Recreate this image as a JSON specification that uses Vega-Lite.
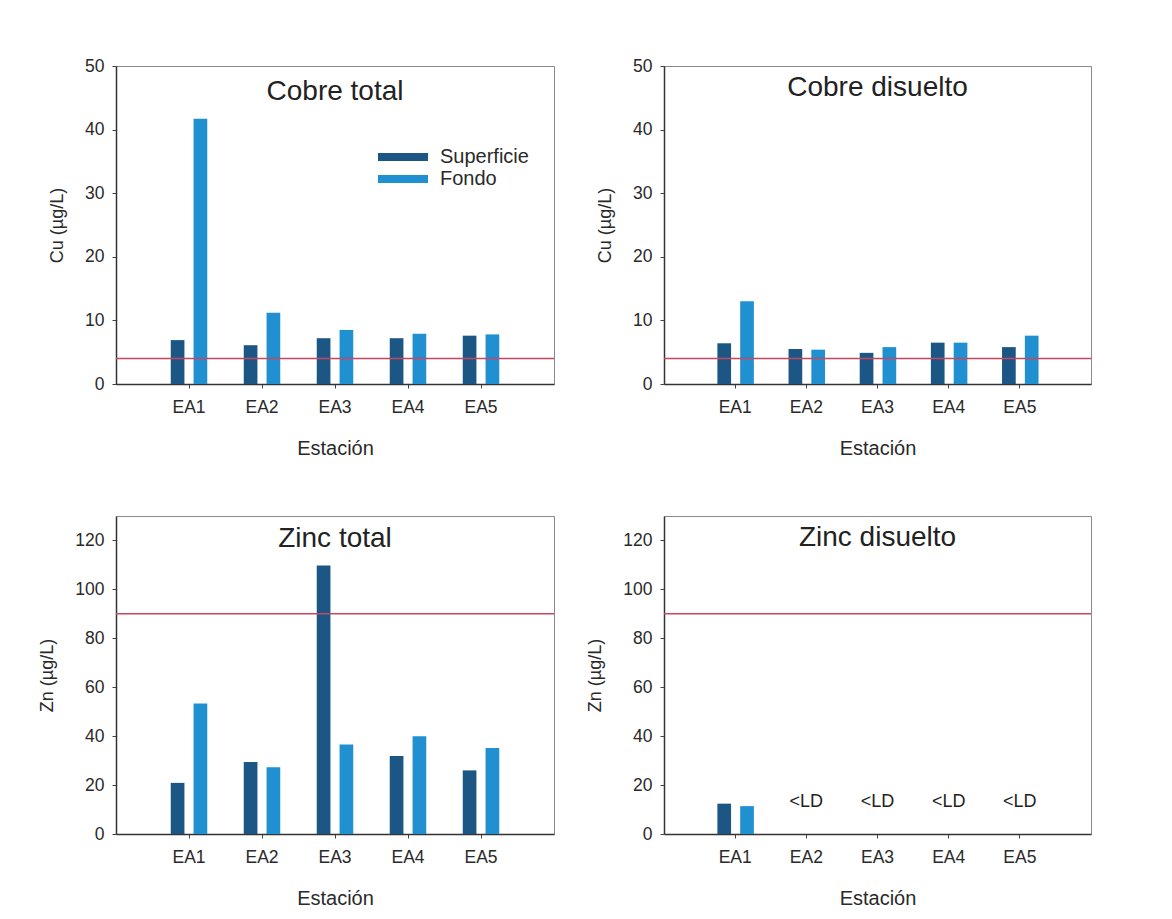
{
  "$schema": "https://vega.github.io/schema/vega-lite/v6.json",
  "background": "white",
  "padding": {"left": 38, "top": 56, "right": 5, "bottom": 5},
  "autosize": {"type": "pad"},
  "bounds": "flush",
  "columns": 2,
  "spacing": {"row": 132, "column": 110},
  "resolve": {"scale": {"color": "independent"}},
  "datasets": {
    "cu_total": [
      {"estacion": "EA1", "muestra": "Superficie", "valor": 6.9},
      {"estacion": "EA1", "muestra": "Fondo", "valor": 41.7},
      {"estacion": "EA2", "muestra": "Superficie", "valor": 6.1},
      {"estacion": "EA2", "muestra": "Fondo", "valor": 11.2},
      {"estacion": "EA3", "muestra": "Superficie", "valor": 7.2},
      {"estacion": "EA3", "muestra": "Fondo", "valor": 8.5},
      {"estacion": "EA4", "muestra": "Superficie", "valor": 7.2},
      {"estacion": "EA4", "muestra": "Fondo", "valor": 7.9},
      {"estacion": "EA5", "muestra": "Superficie", "valor": 7.6},
      {"estacion": "EA5", "muestra": "Fondo", "valor": 7.8}
    ],
    "cu_dis": [
      {"estacion": "EA1", "muestra": "Superficie", "valor": 6.4},
      {"estacion": "EA1", "muestra": "Fondo", "valor": 13.0},
      {"estacion": "EA2", "muestra": "Superficie", "valor": 5.5},
      {"estacion": "EA2", "muestra": "Fondo", "valor": 5.4},
      {"estacion": "EA3", "muestra": "Superficie", "valor": 4.9},
      {"estacion": "EA3", "muestra": "Fondo", "valor": 5.8},
      {"estacion": "EA4", "muestra": "Superficie", "valor": 6.5},
      {"estacion": "EA4", "muestra": "Fondo", "valor": 6.5},
      {"estacion": "EA5", "muestra": "Superficie", "valor": 5.8},
      {"estacion": "EA5", "muestra": "Fondo", "valor": 7.6}
    ],
    "zn_total": [
      {"estacion": "EA1", "muestra": "Superficie", "valor": 20.9},
      {"estacion": "EA1", "muestra": "Fondo", "valor": 53.3},
      {"estacion": "EA2", "muestra": "Superficie", "valor": 29.4},
      {"estacion": "EA2", "muestra": "Fondo", "valor": 27.3},
      {"estacion": "EA3", "muestra": "Superficie", "valor": 109.8},
      {"estacion": "EA3", "muestra": "Fondo", "valor": 36.6},
      {"estacion": "EA4", "muestra": "Superficie", "valor": 31.9},
      {"estacion": "EA4", "muestra": "Fondo", "valor": 40.0},
      {"estacion": "EA5", "muestra": "Superficie", "valor": 26.0},
      {"estacion": "EA5", "muestra": "Fondo", "valor": 35.2}
    ],
    "zn_dis": [
      {"estacion": "EA1", "muestra": "Superficie", "valor": 12.4},
      {"estacion": "EA1", "muestra": "Fondo", "valor": 11.4}
    ],
    "zn_ld": [
      {"estacion": "EA2", "etiqueta": "<LD"},
      {"estacion": "EA3", "etiqueta": "<LD"},
      {"estacion": "EA4", "etiqueta": "<LD"},
      {"estacion": "EA5", "etiqueta": "<LD"}
    ],
    "limite_cu": [{"limite": 4}],
    "limite_zn": [{"limite": 90}]
  },
  "config": {
    "font": "Liberation Sans",
    "view": {"stroke": "#8a8a8a", "strokeWidth": 1},
    "axis": {
      "domainColor": "#333333", "domainWidth": 1.5, "tickColor": "#444444", "tickSize": 4,
      "labelFont": "Liberation Sans", "labelFontSize": 17.5, "labelColor": "#2a2a2a",
      "titleFont": "Liberation Sans", "titleFontSize": 18, "titleFontWeight": "normal", "titleColor": "#2a2a2a",
      "grid": false
    },
    "axisX": {"labelAngle": 0, "labelPadding": 10, "titleFontSize": 20, "titlePadding": 23},
    "axisY": {"labelPadding": 8, "titlePadding": 18},
    "title": {"font": "Liberation Sans", "fontSize": 28, "fontWeight": "normal", "color": "#222222", "frame": "group", "anchor": "middle", "offset": -49},
    "legend": {
      "symbolType": "M-0.5,-0.4L4.5,-0.4L4.5,0.4L-0.5,0.4Z", "symbolSize": 400, "symbolStrokeWidth": 0,
      "labelFont": "Liberation Sans", "labelFontSize": 20, "labelColor": "#2a2a2a", "labelOffset": 47,
      "rowPadding": 2, "padding": 0
    }
  },
  "concat": [
    {
      "width": 438, "height": 318,
      "title": {"text": "Cobre total", "offset": -49},
      "layer": [
        {
          "data": {"name": "cu_total"},
          "mark": {"type": "bar"},
          "encoding": {
            "x": {"field": "estacion", "type": "nominal", "title": "Estación", "scale": {"domain": ["EA1", "EA2", "EA3", "EA4", "EA5"], "paddingInner": 0.5, "paddingOuter": 0.75}},
            "xOffset": {"field": "muestra", "type": "nominal", "scale": {"domain": ["Superficie", "Fondo"], "paddingInner": 0.4}},
            "y": {"field": "valor", "type": "quantitative", "title": "Cu (µg/L)", "scale": {"domain": [0, 50], "nice": false}, "axis": {"values": [0, 10, 20, 30, 40, 50]}},
            "color": {"field": "muestra", "type": "nominal", "scale": {"domain": ["Superficie", "Fondo"], "range": ["#1c5684", "#2090d0"]}, "legend": {"orient": "none", "legendX": 257, "legendY": 81, "title": null}}
          }
        },
        {
          "data": {"name": "limite_cu"},
          "mark": {"type": "rule", "color": "#c8465f", "strokeWidth": 1.5},
          "encoding": {"y": {"field": "limite", "type": "quantitative"}}
        }
      ]
    },
    {
      "width": 427, "height": 318,
      "title": {"text": "Cobre disuelto", "offset": -45},
      "layer": [
        {
          "data": {"name": "cu_dis"},
          "mark": {"type": "bar"},
          "encoding": {
            "x": {"field": "estacion", "type": "nominal", "title": "Estación", "scale": {"domain": ["EA1", "EA2", "EA3", "EA4", "EA5"], "paddingInner": 0.5, "paddingOuter": 0.75}},
            "xOffset": {"field": "muestra", "type": "nominal", "scale": {"domain": ["Superficie", "Fondo"], "paddingInner": 0.4}},
            "y": {"field": "valor", "type": "quantitative", "title": "Cu (µg/L)", "scale": {"domain": [0, 50], "nice": false}, "axis": {"values": [0, 10, 20, 30, 40, 50]}},
            "color": {"field": "muestra", "type": "nominal", "scale": {"domain": ["Superficie", "Fondo"], "range": ["#1c5684", "#2090d0"]}, "legend": null}
          }
        },
        {
          "data": {"name": "limite_cu"},
          "mark": {"type": "rule", "color": "#c8465f", "strokeWidth": 1.5},
          "encoding": {"y": {"field": "limite", "type": "quantitative"}}
        }
      ]
    },
    {
      "width": 438, "height": 318,
      "title": {"text": "Zinc total", "offset": -37},
      "layer": [
        {
          "data": {"name": "zn_total"},
          "mark": {"type": "bar"},
          "encoding": {
            "x": {"field": "estacion", "type": "nominal", "title": "Estación", "scale": {"domain": ["EA1", "EA2", "EA3", "EA4", "EA5"], "paddingInner": 0.5, "paddingOuter": 0.75}},
            "xOffset": {"field": "muestra", "type": "nominal", "scale": {"domain": ["Superficie", "Fondo"], "paddingInner": 0.4}},
            "y": {"field": "valor", "type": "quantitative", "title": "Zn (µg/L)", "scale": {"domain": [0, 130], "nice": false}, "axis": {"values": [0, 20, 40, 60, 80, 100, 120]}},
            "color": {"field": "muestra", "type": "nominal", "scale": {"domain": ["Superficie", "Fondo"], "range": ["#1c5684", "#2090d0"]}, "legend": null}
          }
        },
        {
          "data": {"name": "limite_zn"},
          "mark": {"type": "rule", "color": "#c8465f", "strokeWidth": 1.5},
          "encoding": {"y": {"field": "limite", "type": "quantitative"}}
        }
      ]
    },
    {
      "width": 427, "height": 318,
      "title": {"text": "Zinc disuelto", "offset": -36},
      "layer": [
        {
          "data": {"name": "zn_dis"},
          "mark": {"type": "bar"},
          "encoding": {
            "x": {"field": "estacion", "type": "nominal", "title": "Estación", "scale": {"domain": ["EA1", "EA2", "EA3", "EA4", "EA5"], "paddingInner": 0.5, "paddingOuter": 0.75}},
            "xOffset": {"field": "muestra", "type": "nominal", "scale": {"domain": ["Superficie", "Fondo"], "paddingInner": 0.4}},
            "y": {"field": "valor", "type": "quantitative", "title": "Zn (µg/L)", "scale": {"domain": [0, 130], "nice": false}, "axis": {"values": [0, 20, 40, 60, 80, 100, 120]}},
            "color": {"field": "muestra", "type": "nominal", "scale": {"domain": ["Superficie", "Fondo"], "range": ["#1c5684", "#2090d0"]}, "legend": null}
          }
        },
        {
          "data": {"name": "zn_ld"},
          "mark": {"type": "text", "fontSize": 18, "color": "#222222", "baseline": "middle", "dy": -32},
          "encoding": {
            "x": {"field": "estacion", "type": "nominal"},
            "y": {"datum": 0},
            "text": {"field": "etiqueta", "type": "nominal"}
          }
        },
        {
          "data": {"name": "limite_zn"},
          "mark": {"type": "rule", "color": "#c8465f", "strokeWidth": 1.5},
          "encoding": {"y": {"field": "limite", "type": "quantitative"}}
        }
      ]
    }
  ]
}
